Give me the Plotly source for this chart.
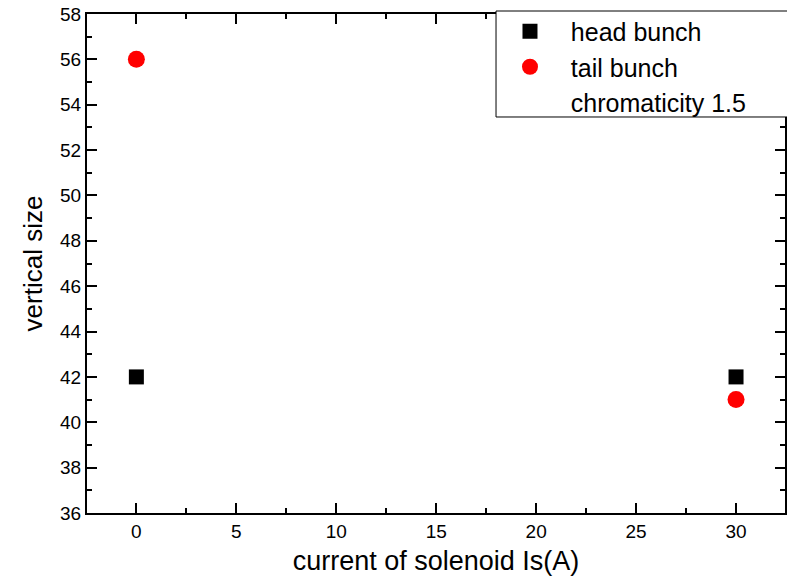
import plotly.graph_objects as go

current = [0, 30]
head_bunch = [42, 42]
tail_bunch = [56, 41]

x_ticks = [0, 5, 10, 15, 20, 25, 30]
y_ticks = [36, 38, 40, 42, 44, 46, 48, 50, 52, 54, 56, 58]

FONT = "Liberation Sans, Arial, sans-serif"
NB = "\u00a0"

fig = go.Figure()
fig.add_trace(go.Scatter(x=current, y=head_bunch, mode="markers", name=NB * 3 + "head bunch",
                         marker=dict(symbol="square", size=15, color="black")))
fig.add_trace(go.Scatter(x=current, y=tail_bunch, mode="markers", name=NB * 3 + "tail bunch",
                         marker=dict(symbol="circle", size=17, color="red")))
fig.add_trace(go.Scatter(x=[None], y=[None], mode="markers", name=NB * 3 + "chromaticity 1.5",
                         marker=dict(size=1, color="rgba(0,0,0,0)")))

axis_common = dict(
    showline=True, linecolor="black", linewidth=2, mirror="allticks",
    ticks="inside", ticklen=10, tickwidth=2, tickcolor="black",
    showgrid=False, zeroline=False,
    tickfont=dict(family=FONT, size=19, color="black"),
    minor=dict(ticks="inside", ticklen=5, tickwidth=2, tickcolor="black", showgrid=False),
)

fig.update_xaxes(range=[-2.47, 32.45], tickvals=x_ticks, ticktext=[str(v) for v in x_ticks],
                 minor_dtick=2.5,
                 title=dict(text="current of solenoid Is(A)", font=dict(family=FONT, size=27, color="black"),
                            standoff=12),
                 **axis_common)
fig.update_yaxes(range=[36, 58], tickvals=y_ticks, ticktext=[str(v) for v in y_ticks],
                 minor_dtick=1,
                 title=dict(text="vertical size", font=dict(family=FONT, size=26, color="black"),
                            standoff=10),
                 **axis_common)

# legend frame
fig.add_shape(type="rect", xref="paper", yref="paper", x0=0.586, x1=1.1, y0=0.7936, y1=1.006,
              line=dict(color="black", width=1), fillcolor="white", layer="above")

fig.update_layout(
    width=787, height=576,
    margin=dict(l=87, r=2, t=14, b=63, autoexpand=False),
    plot_bgcolor="white", paper_bgcolor="white",
    showlegend=True,
    legend=dict(x=0.606, y=1.011, xanchor="left", yanchor="top",
                borderwidth=0, bgcolor="rgba(0,0,0,0)",
                font=dict(family=FONT, size=25, color="black"),
                tracegroupgap=0, itemsizing="trace"),
    font=dict(family=FONT, color="black"),
)

fig.write_html("out.html", config={"displayModeBar": False},
               post_script="document.body.style.margin='0';")
